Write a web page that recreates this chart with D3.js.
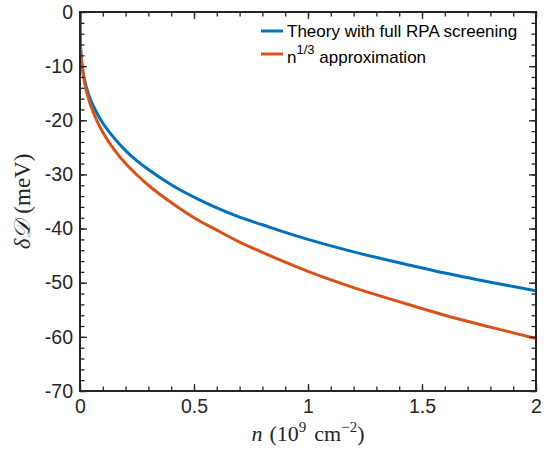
<!DOCTYPE html>
<html>
<head>
<meta charset="utf-8">
<script src="https://cdn.jsdelivr.net/npm/d3@7"></script>
<style>
  html, body { margin: 0; padding: 0; background: #fff; }
  svg { display: block; }
</style>
</head>
<body>
<svg id="chart" width="544" height="449"></svg>
<script>
// ---- data ----
const densities = [0, 0.0005, 0.002, 0.005, 0.01, 0.02, 0.04, 0.06, 0.08, 0.1, 0.15, 0.2, 0.25, 0.3, 0.4, 0.5, 0.6, 0.7, 0.8, 0.9, 1.0, 1.2, 1.4, 1.6, 1.8, 2.0];
const rpaValues = [0, -3.8, -6.0, -8.1, -10.1, -12.5, -15.5, -17.5, -19.1, -20.5, -23.3, -25.6, -27.5, -29.1, -31.9, -34.2, -36.2, -37.9, -39.3, -40.7, -42.0, -44.3, -46.3, -48.2, -49.9, -51.5];
const approxValues = [0, -3.8, -6.0, -8.2, -10.3, -13.0, -16.4, -18.7, -20.6, -22.2, -25.4, -28.0, -30.1, -32.0, -35.2, -38.0, -40.3, -42.5, -44.4, -46.2, -47.9, -50.9, -53.5, -56.0, -58.2, -60.3];
const seriesNames = ["Theory with full RPA screening", "n^{1/3} approximation"];
const seriesColors = ["#0072BD", "#D95319"];
const xTicks = [0, 0.5, 1, 1.5, 2];
const xTickLabels = ["0", "0.5", "1", "1.5", "2"];
const yTicks = [0, -10, -20, -30, -40, -50, -60, -70];
const yTickLabels = ["0", "-10", "-20", "-30", "-40", "-50", "-60", "-70"];
const xMinor = [0, 0.1, 0.2, 0.3, 0.4, 0.5, 0.6, 0.7, 0.8, 0.9, 1.0, 1.1, 1.2, 1.3, 1.4, 1.5, 1.6, 1.7, 1.8, 1.9, 2.0];
const yMinor = [-70, -68, -66, -64, -62, -60, -58, -56, -54, -52, -50, -48, -46, -44, -42, -40, -38, -36, -34, -32, -30, -28, -26, -24, -22, -20, -18, -16, -14, -12, -10, -8, -6, -4, -2, 0];

(function () {
const svg = d3.select("#chart");
const pL = 80, pR = 536, pT = 12, pB = 391;
const x = d3.scaleLinear().domain([0, 2]).range([pL, pR]);
const y = d3.scaleLinear().domain([-70, 0]).range([pB, pT]);
const axisColor = "#262626";
const tickFont = "'Liberation Sans', Arial, Helvetica, sans-serif";

svg.append("defs").append("clipPath").attr("id", "clip")
  .append("rect").attr("x", pL).attr("y", pT).attr("width", pR - pL).attr("height", pB - pT);

const series = [rpaValues, approxValues];
const line = d3.line().x((d, i) => x(densities[i])).y(d => y(d)).curve(d3.curveMonotoneX);
const g = svg.append("g").attr("clip-path", "url(#clip)");
series.forEach((vals, k) => {
  g.append("path").datum(vals)
    .attr("fill", "none")
    .attr("stroke", seriesColors[k])
    .attr("stroke-width", 3)
    .attr("stroke-linejoin", "round")
    .attr("d", line);
});

function styleAxis(sel) {
  sel.select(".domain").remove();
  sel.selectAll("line").attr("stroke", axisColor).attr("stroke-width", 1.3);
  sel.selectAll("text").attr("fill", axisColor).style("font-family", tickFont).style("font-size", "19.5px");
}
const majorLen = 7, minorLen = 4.5;
const minorAxes = [
  [d3.axisBottom(x).tickValues(xMinor), `translate(0,${pB})`],
  [d3.axisTop(x).tickValues(xMinor), `translate(0,${pT})`],
  [d3.axisLeft(y).tickValues(yMinor), `translate(${pL},0)`],
  [d3.axisRight(y).tickValues(yMinor), `translate(${pR},0)`]
];
minorAxes.forEach(([ax, tr]) => {
  svg.append("g").attr("transform", tr)
    .call(ax.tickSizeInner(-minorLen).tickSizeOuter(0).tickFormat(""))
    .call(styleAxis);
});
svg.append("g").attr("transform", `translate(0,${pB})`)
  .call(d3.axisBottom(x).tickValues(xTicks).tickSizeInner(-majorLen).tickSizeOuter(0).tickPadding(8)
    .tickFormat((d, i) => xTickLabels[i]))
  .call(styleAxis);
svg.append("g").attr("transform", `translate(0,${pT})`)
  .call(d3.axisTop(x).tickValues(xTicks).tickSizeInner(-majorLen).tickSizeOuter(0).tickFormat(""))
  .call(styleAxis);
svg.append("g").attr("transform", `translate(${pL},0)`)
  .call(d3.axisLeft(y).tickValues(yTicks).tickSizeInner(-majorLen).tickSizeOuter(0).tickPadding(7)
    .tickFormat((d, i) => yTickLabels[i]))
  .call(styleAxis);
svg.append("g").attr("transform", `translate(${pR},0)`)
  .call(d3.axisRight(y).tickValues(yTicks).tickSizeInner(-majorLen).tickSizeOuter(0).tickFormat(""))
  .call(styleAxis);

svg.append("rect").attr("x", pL).attr("y", pT).attr("width", pR - pL).attr("height", pB - pT)
  .attr("fill", "none").attr("stroke", axisColor).attr("stroke-width", 2);

// axis labels
const xl = svg.append("text").attr("x", (pL + pR) / 2).attr("y", 441)
  .attr("text-anchor", "middle").attr("fill", axisColor)
  .style("font-family", "'Liberation Serif', serif").style("font-size", "22px");
xl.append("tspan").attr("font-style", "italic").text("n");
xl.append("tspan").attr("dx", 7).text("(10");
xl.append("tspan").attr("dy", -9).style("font-size", "15px").text("9");
xl.append("tspan").attr("dy", 9).attr("dx", 8).text("cm");
xl.append("tspan").attr("dy", -9).style("font-size", "15px").text("\u22122");
xl.append("tspan").attr("dy", 9).text(")");

const yl = svg.append("text").attr("transform", `translate(30,${(pT + pB) / 2}) rotate(-90)`)
  .attr("text-anchor", "middle").attr("fill", axisColor)
  .style("font-family", "'Liberation Serif', serif").style("font-size", "23px");
yl.append("tspan").attr("font-style", "italic").text("\u03B4");
yl.append("tspan").attr("font-style", "italic").text("\uD835\uDC9F");
yl.append("tspan").attr("dx", 7).text("(meV)");

// legend
const legX = 261, legY = [31, 54];
series.forEach((vals, k) => {
  svg.append("line").attr("x1", legX).attr("x2", legX + 22).attr("y1", legY[k]).attr("y2", legY[k])
    .attr("stroke", seriesColors[k]).attr("stroke-width", 3);
});
svg.append("text").attr("x", legX + 26).attr("y", legY[0] + 6)
  .attr("fill", "#000").style("font-family", tickFont).style("font-size", "17px")
  .text(seriesNames[0]);
const lt = svg.append("text").attr("x", legX + 26).attr("y", legY[1] + 9)
  .attr("fill", "#000").style("font-family", tickFont).style("font-size", "17px");
lt.append("tspan").text("n");
lt.append("tspan").attr("dy", -9).style("font-size", "13px").text("1/3");
lt.append("tspan").attr("dy", 9).text(" approximation");
})();
</script>
</body>
</html>
